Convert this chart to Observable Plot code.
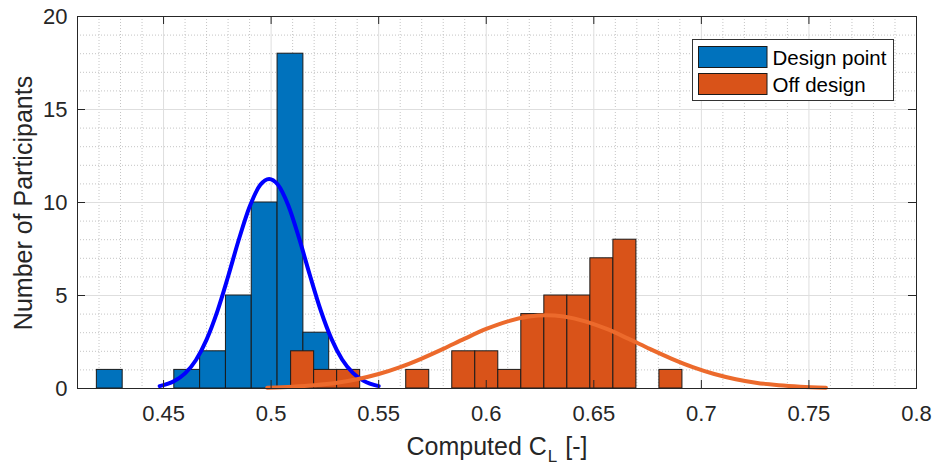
<!DOCTYPE html>
<html><head><meta charset="utf-8">
<script src="https://cdn.jsdelivr.net/npm/d3@7"></script>
<script src="https://cdn.jsdelivr.net/npm/@observablehq/plot@0.6"></script>
<style>
html,body{margin:0;padding:0;background:#fff;}
#chart{position:relative;width:935px;height:465px;}
</style></head><body><div id="chart"></div>
<script>
// ---- data ----
const designEdges  = [0.419, 0.431, 0.443, 0.455, 0.467, 0.479, 0.491, 0.503, 0.515, 0.527];
const designCounts = [1, 0, 0, 1, 2, 5, 10, 18, 3];
const offEdges  = [0.5093, 0.5200, 0.5307, 0.5414, 0.5521, 0.5628, 0.5735, 0.5842, 0.5949,
                   0.6056, 0.6163, 0.6270, 0.6377, 0.6484, 0.6591, 0.6698, 0.6805, 0.6912];
const offCounts = [2, 1, 1, 0, 0, 1, 0, 2, 2, 1, 4, 5, 5, 7, 8, 0, 1];
const designFitX = [0.4482,0.455,0.46,0.465,0.47,0.475,0.48,0.485,0.49,0.495,0.4991,0.503,0.508,0.513,0.518,0.523,0.528,0.533,0.538,0.543,0.55];
const designFitY = [0.13,0.40,0.81,1.52,2.63,4.15,6.02,8.01,9.77,10.95,11.27,10.98,9.84,8.08,6.10,4.22,2.68,1.56,0.84,0.41,0.13];
const offFitX = [0.4982,0.51,0.52,0.53,0.54,0.55,0.56,0.57,0.58,0.59,0.60,0.61,0.62,0.628,0.636,0.646,0.656,0.666,0.676,0.686,0.696,0.706,0.716,0.726,0.736,0.746,0.7579];
const offFitY = [0.04,0.10,0.18,0.30,0.50,0.78,1.15,1.61,2.13,2.68,3.20,3.61,3.87,3.94,3.87,3.61,3.20,2.68,2.13,1.61,1.15,0.78,0.50,0.30,0.18,0.10,0.04];
const xTicks = [0.45, 0.5, 0.55, 0.6, 0.65, 0.7, 0.75, 0.8];
const xTickLabels = ["0.45", "0.5", "0.55", "0.6", "0.65", "0.7", "0.75", "0.8"];
const yTicks = [0, 5, 10, 15, 20];
const seriesNames = ["Design point", "Off design"];
const seriesColors = ["#0072BD", "#D95319"];
const fitColors = ["#0000FF", "#EC6A2C"];

// ---- layout ----
const W = 935, H = 465, mL = 77, mR = 19, mT = 16, mB = 77;
const fw = W - mL - mR, fh = H - mT - mB;
const xMinor = d3.range(41, 81).filter(i => i % 5 !== 0).map(i => i / 100);
const yMinor = d3.range(1, 20).filter(i => i % 5 !== 0);

const toBins = (edges, counts) => counts.map((c, i) => ({x1: edges[i], x2: edges[i + 1], y: c})).filter(d => d.y > 0);
const designBins = toBins(designEdges, designCounts);
const offBins = toBins(offEdges, offCounts);
const designFit = designFitX.map((x, i) => ({x, y: designFitY[i]}));
const offFit = offFitX.map((x, i) => ({x, y: offFitY[i]}));

const axisColor = "#262626";
const plot = Plot.plot({
  width: W, height: H, marginLeft: mL, marginRight: mR, marginTop: mT, marginBottom: mB,
  style: {fontFamily: "'Liberation Sans', Arial, Helvetica, sans-serif", fontSize: "22px", color: axisColor, background: "#fff", overflow: "visible"},
  x: {domain: [0.41, 0.8], label: null},
  y: {domain: [0, 20], label: null},
  marks: [
    Plot.ruleX(xMinor, {x: d => d, stroke: "#c4c4c4", strokeWidth: 1, strokeDasharray: "1,2"}),
    Plot.ruleY(yMinor, {y: d => d, stroke: "#c4c4c4", strokeWidth: 1, strokeDasharray: "1,2"}),
    Plot.ruleX(xTicks, {x: d => d, stroke: "#dedede", strokeWidth: 1}),
    Plot.ruleY(yTicks, {y: d => d, stroke: "#dedede", strokeWidth: 1}),
    Plot.rectY(designBins, {x1: "x1", x2: "x2", y1: 0, y2: "y", fill: seriesColors[0], stroke: "#1a1a1a", strokeWidth: 1}),
    Plot.rectY(offBins, {x1: "x1", x2: "x2", y1: 0, y2: "y", fill: seriesColors[1], stroke: "#1a1a1a", strokeWidth: 1}),
    Plot.line(designFit, {x: "x", y: "y", stroke: fitColors[0], strokeWidth: 4, curve: "monotone-x"}),
    Plot.line(offFit, {x: "x", y: "y", stroke: fitColors[1], strokeWidth: 4, curve: "monotone-x"}),
    // inward ticks on all four sides
    Plot.ruleX(xTicks, {x: d => d, insetTop: fh - 8, stroke: axisColor}),
    Plot.ruleX(xTicks, {x: d => d, insetBottom: fh - 8, stroke: axisColor}),
    Plot.ruleY(yTicks, {y: d => d, insetRight: fw - 8, stroke: axisColor}),
    Plot.ruleY(yTicks, {y: d => d, insetLeft: fw - 8, stroke: axisColor}),
    Plot.frame({stroke: axisColor, strokeWidth: 1}),
    Plot.axisX(xTicks, {tickSize: 0, tickPadding: 17, tickFormat: (d, i) => xTickLabels[i], label: null, fill: axisColor}),
    Plot.axisY(yTicks, {tickSize: 0, tickPadding: 10, label: null, fill: axisColor})
  ]
});
document.getElementById("chart").appendChild(plot);

// axis titles and legend as real SVG text
const svg = d3.select(plot);
const font = "'Liberation Sans', Arial, Helvetica, sans-serif";
svg.append("text")
  .attr("transform", "translate(31.5,203) rotate(-90)")
  .attr("text-anchor", "middle").attr("font-family", font).attr("font-size", 25)
  .attr("fill", axisColor).text("Number of Participants");
const xl = svg.append("text").attr("x", 406.5).attr("y", 455).attr("text-anchor", "start")
  .attr("font-family", font).attr("font-size", 25).attr("fill", axisColor);
xl.append("tspan").text("Computed C");
xl.append("tspan").attr("font-size", 17).attr("dy", 7).attr("dx", 1).text("L");
xl.append("tspan").attr("dy", -7).attr("dx", 8).text("[-]");

const lg = svg.append("g");
lg.append("rect").attr("x", 692.5).attr("y", 39.5).attr("width", 201).attr("height", 61)
  .attr("fill", "#fff").attr("stroke", "#333");
seriesNames.forEach((name, i) => {
  const y0 = 46.5 + i * 27;
  lg.append("rect").attr("x", 698.5).attr("y", y0).attr("width", 68.5).attr("height", 21)
    .attr("fill", seriesColors[i]).attr("stroke", "#1a1a1a");
  lg.append("text").attr("x", 772.5).attr("y", y0 + 18.5).attr("text-anchor", "start").attr("font-family", font)
    .attr("font-size", 20.5).attr("fill", "#000").text(name);
});
</script></body></html>
